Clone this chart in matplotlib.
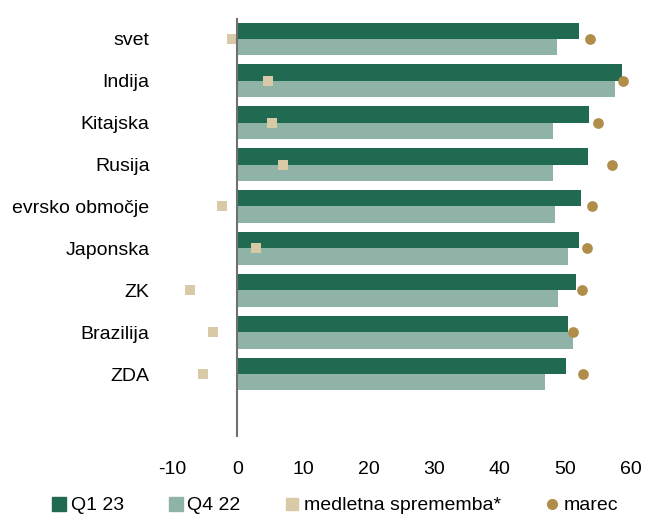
import numpy as np
import matplotlib
matplotlib.use("Agg")
import matplotlib.pyplot as plt
from matplotlib.lines import Line2D

plt.rcParams['font.family'] = ['Liberation Sans', 'DejaVu Sans']

# podatki (odčitano s slike)
drzave = ["svet", "Indija", "Kitajska", "Rusija", "evrsko območje",
          "Japonska", "ZK", "Brazilija", "ZDA"]
q1_23 = [52.1, 58.6, 53.6, 53.5, 52.3, 52.0, 51.6, 50.4, 50.0]
q4_22 = [48.7, 57.5, 48.1, 48.1, 48.4, 50.4, 48.8, 51.1, 46.8]
sprememba = [-0.8, 4.7, 5.2, 6.9, -2.3, 2.9, -7.2, -3.7, -5.2]
marec = [53.7, 58.7, 54.9, 57.1, 54.0, 53.2, 52.5, 51.1, 52.6]
xticks = [-10, 0, 10, 20, 30, 40, 50, 60]

c_q1 = "#1f6a51"
c_q4 = "#8fb4a7"
c_sq = "#d8c9a7"
c_dot = "#b08e4a"

fig = plt.figure(figsize=(6.46, 5.14), dpi=100)
ax = fig.add_axes([0.266, 0.150, 0.711, 0.815])

y = np.arange(len(drzave))
h = 0.39
ax.barh(y - h / 2, q1_23, height=h, color=c_q1, zorder=2)
ax.barh(y + h / 2, q4_22, height=h, color=c_q4, zorder=2)
ax.scatter(sprememba, y, marker="s", s=60, color=c_sq, linewidths=0, zorder=3)
ax.scatter(marec, y, marker="o", s=60, color=c_dot, linewidths=0, zorder=3)

ax.axvline(0, color="#707070", lw=1.5, zorder=4)

ax.set_xlim(-10, 60)
ax.set_ylim(9.5, -0.5)
ax.set_xticks(xticks)
ax.set_xticklabels([str(t) for t in xticks])
ax.set_yticks(y)
ax.set_yticklabels(drzave)
ax.tick_params(axis="both", length=0, labelsize=14)
ax.tick_params(axis="x", pad=17)
ax.tick_params(axis="y", pad=16)
for s in ax.spines.values():
    s.set_visible(False)

handles = [
    Line2D([], [], marker="s", ls="", color=c_q1, markersize=10),
    Line2D([], [], marker="s", ls="", color=c_q4, markersize=10),
    Line2D([], [], marker="s", ls="", color=c_sq, markersize=8),
    Line2D([], [], marker="o", ls="", color=c_dot, markersize=7),
]
fig.legend(handles, ["Q1 23", "Q4 22", "medletna sprememba*", "marec"],
           loc="lower center", bbox_to_anchor=(0.517, -0.035), ncol=4, frameon=False,
           fontsize=14, handletextpad=0.1, columnspacing=2.15, handlelength=1.0)

fig.savefig("out.png", dpi=100)
